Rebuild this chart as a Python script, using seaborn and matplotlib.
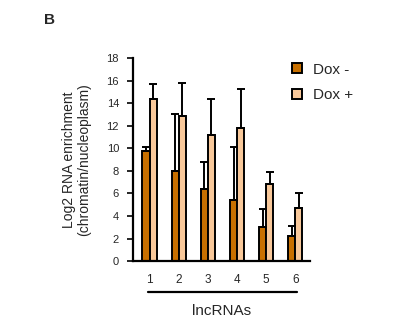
import numpy as np
import pandas as pd
import matplotlib
matplotlib.use("Agg")
import matplotlib.pyplot as plt
import matplotlib.transforms as mtransforms
from matplotlib.lines import Line2D
import seaborn as sns

# Data: log2 chromatin/nucleoplasm enrichment per lncRNA
lncrnas = ["1", "2", "3", "4", "5", "6"]
conditions = ["Dox -", "Dox +"]
dox_minus = [9.75, 7.98, 6.38, 5.44, 3.04, 2.25]
dox_minus_err = [0.38, 5.08, 2.40, 4.66, 1.56, 0.88]
dox_plus = [14.39, 12.85, 11.20, 11.82, 6.80, 4.73]
dox_plus_err = [1.33, 2.96, 3.16, 3.43, 1.10, 1.33]
yticks = [0, 2, 4, 6, 8, 10, 12, 14, 16, 18]

colors = {"Dox -": "#C87000", "Dox +": "#F8C89A"}

df = pd.DataFrame({
    "lncRNA": lncrnas * 2,
    "condition": [conditions[0]] * len(lncrnas) + [conditions[1]] * len(lncrnas),
    "value": dox_minus + dox_plus,
})

sns.set_style("white")
plt.rcParams["font.family"] = ["Liberation Sans", "DejaVu Sans"]

fig = plt.figure(figsize=(3.99, 3.26), dpi=100)
ax = fig.add_axes([0.333, 0.199, 0.444, 0.623])

sns.barplot(data=df, x="lncRNA", y="value", hue="condition", order=lncrnas,
            hue_order=conditions, palette=colors, width=0.48, gap=0,
            errorbar=None, edgecolor="black", linewidth=1.4, legend=False,
            saturation=1, ax=ax)

# one-sided (upper) error bars centred on each bar
for container, errs, vals in zip(ax.containers, [dox_minus_err, dox_plus_err],
                                 [dox_minus, dox_plus]):
    xs = [p.get_x() + p.get_width() / 2 for p in container.patches]
    ax.errorbar(xs, vals, yerr=[np.zeros(len(errs)), errs], fmt="none",
                ecolor="black", elinewidth=1.4, capsize=3, capthick=1.4,
                zorder=1)

ax.set_ylim(0, 18)
ax.set_yticks(yticks)
ax.set_xlim(-0.57, 5.5)
ax.tick_params(axis="y", direction="out", length=4, width=1.4, labelsize=8,
               left=True, pad=6)
ax.tick_params(axis="x", length=0, labelsize=8.5, pad=9)
for side in ["top", "right"]:
    ax.spines[side].set_visible(False)
for side in ["left", "bottom"]:
    ax.spines[side].set_linewidth(1.6)
    ax.spines[side].set_color("black")

ax.set_ylabel("Log2 RNA enrichment\n(chromatin/nucleoplasm)", fontsize=10,
              labelpad=11, linespacing=1.1)
ax.set_xlabel("lncRNAs", fontsize=11, labelpad=13)

# bracket line under the category labels
trans = mtransforms.blended_transform_factory(ax.transData, ax.transAxes)
ax.plot([-0.05, 5.05], [-0.153, -0.153], color="black", lw=1.6,
        transform=trans, clip_on=False)

handles = [Line2D([], [], marker="s", linestyle="none", markersize=6.5,
                  markerfacecolor=colors[c], markeredgecolor="black",
                  markeredgewidth=1.4) for c in conditions]
fig.legend(handles, conditions, loc="upper left",
           bbox_to_anchor=(0.69, 0.85), frameon=False, fontsize=11,
           handletextpad=0.55, labelspacing=0.75, handlelength=1.0)

fig.text(0.11, 0.94, "B", fontsize=11, fontweight="bold", ha="left",
         va="center")

fig.savefig("out.png", dpi=100)
